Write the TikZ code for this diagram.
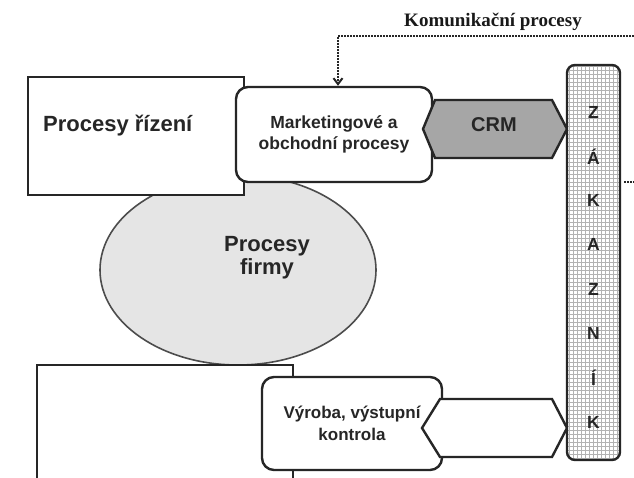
\documentclass[tikz,border=0pt]{standalone}
\usepackage{fontspec}
\setmainfont{Liberation Sans}
\newfontfamily\timesfont{Liberation Serif}
\usetikzlibrary{arrows.meta,shapes.geometric}

\begin{document}
\begin{tikzpicture}[
    x=1pt, y=-1pt,
    ink/.style={black!85},
    box/.style={
        draw=black!85,
        line width=2.4pt,
        fill=white,
        inner sep=0pt,
        align=center,
        text=black!85,
        font=\bfseries\fontsize{17.5}{21}\selectfont
    },
    rbox/.style={box, rounded corners=12pt},
    bigtext/.style={text=black!85, font=\bfseries\fontsize{22}{23}\selectfont, align=center, inner sep=0pt},
    hexa/.style={draw=black!85, line width=2.4pt, line join=miter},
    bar/.style={
        box,
        rounded corners=8pt,
        minimum width=53pt,
        minimum height=395pt,
        path picture={\draw[black!30, line width=0.5pt, step=4pt]
            (path picture bounding box.south west) grid (path picture bounding box.north east);}
    },
    letter/.style={text=black!85, font=\bfseries\fontsize{17.5}{17.5}\selectfont, inner sep=0pt},
    komline/.style={black!85, line width=2pt, densely dotted}
]

% ===== Background =====
\clip (0,0) rectangle (634,478);
\fill[white] (0,0) rectangle (634,478);

% ===== Firm processes =====
\node[ellipse, draw=black!70, line width=1.6pt, fill=black!10,
      minimum width=276pt, minimum height=190pt, inner sep=0pt] (firma) at (238,270) {};
\node[bigtext] (firmatext) at (267,258) {Procesy\\firmy};

% ===== Management =====
\node[box, minimum width=216pt, minimum height=118pt] (rizeni) at (136,136) {};
\node[bigtext, anchor=base west] (rizenitext) at (43,132) {Procesy řízení};

% ===== Marketing and sales =====
\node[rbox, minimum width=196pt, minimum height=95pt] (mark) at (334,134.5)
    {Marketingové a\\obchodní procesy};

% ===== Production =====
\fill[white] (37,490) -- (37,365) -- (293,365) -- (293,490) -- cycle;
\draw[ink, line width=2.4pt] (37,490) -- (37,365) -- (293,365) -- (293,490);
\node[rbox, font=\bfseries\fontsize{17}{22}\selectfont,
      minimum width=180pt, minimum height=93pt] (vyroba) at (352,423.5)
    {Výroba, výstupní\\kontrola};

% ===== Links to customer =====
\filldraw[hexa, fill=black!35] (423,129) -- (435,100) -- (552,100) -- (567,129)
    -- (552,158) -- (435,158) -- cycle;
\node[text=black!85, font=\bfseries\fontsize{20}{20}\selectfont] (crm) at (494,125) {CRM};
\filldraw[hexa, fill=white] (422,428) -- (440,399) -- (552,399) -- (567,428)
    -- (552,457) -- (440,457) -- cycle;

% ===== Customer =====
\node[bar] (zakaznik) at (593.5,262.5) {};
\foreach \l [count=\i from 0] in {Z,Á,K,A,Z,N,Í,K}
    \node[letter] (zak\i) at (593.5,112+44.3*\i) {\l};

% ===== Communication =====
\node[text=black!90, font=\timesfont\bfseries\fontsize{19}{19}\selectfont] (komtext) at (493,22)
    {Komunikační procesy};
\coordinate (kom) at (640,36);
\draw[komline, -{Straight Barb[length=6pt,width=9pt]}] (kom) -| ([xshift=4pt]mark.north);
\coordinate (stub) at (634,182);
\draw[komline] ([xshift=3pt]zakaznik.east |- stub) -- (stub);

\end{tikzpicture}
\end{document}
